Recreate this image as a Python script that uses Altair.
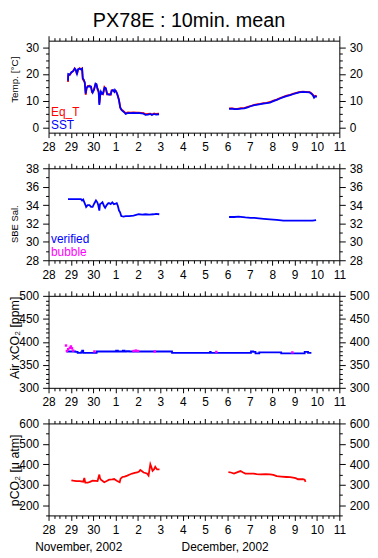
import altair as alt
import pandas as pd

FONT = "Liberation Sans"

# ---------------- data (day number: Nov 28 = 28 ... Dec 1 = 31 ... Dec 11 = 41) ----------------
sst_day_a = [28.87, 28.88, 28.95, 29.02, 29.10, 29.17, 29.22, 29.27, 29.32, 29.39, 29.45, 29.50, 29.53, 29.58,
             29.62, 29.66, 29.70, 29.75, 29.83, 29.90, 29.94, 29.97, 30.03, 30.10, 30.14, 30.19, 30.24, 30.27,
             30.31, 30.34, 30.40, 30.44, 30.50, 30.56, 30.62, 30.71, 30.78, 30.82, 30.88, 30.94, 30.97, 31.02,
             31.07, 31.12, 31.15, 31.20, 31.22, 31.27, 31.33, 31.40, 31.45, 31.55, 31.67, 31.80, 31.95, 32.03,
             32.15, 32.25, 32.33, 32.45, 32.55, 32.62, 32.72, 32.80, 32.94]
sst_val_a = [17.5, 20.0, 19.8, 20.7, 21.0, 22.0, 21.5, 20.1, 21.8, 22.0, 21.7, 22.0, 18.4, 17.8,
             16.6, 12.6, 14.8, 15.3, 15.4, 15.3, 13.5, 13.0, 14.0, 16.4, 16.2, 14.5, 13.5, 8.4,
             12.0, 13.4, 12.5, 12.8, 14.9, 14.7, 12.5, 12.2, 12.4, 13.7, 14.0, 13.3, 14.0, 13.4,
             12.6, 11.0, 10.3, 7.5, 7.2, 6.4, 6.0, 5.5, 5.0, 5.4, 5.3, 5.4, 5.3, 5.4,
             5.2, 5.1, 4.7, 4.8, 5.0, 4.6, 5.0, 4.8, 4.9]
eqt_val_a = [17.0, 19.5, 19.6, 20.5, 21.2, 22.1, 21.3, 19.8, 21.6, 22.2, 21.8, 22.1, 18.0, 17.5,
             16.9, 12.2, 14.5, 15.5, 15.6, 15.0, 13.2, 13.3, 14.2, 16.2, 16.0, 14.2, 13.2, 9.0,
             12.3, 13.0, 12.8, 12.5, 15.1, 14.5, 12.3, 12.5, 12.2, 13.9, 13.8, 13.5, 13.8, 13.6,
             12.3, 11.3, 10.0, 7.8, 7.0, 6.6, 6.2, 5.7, 5.3, 5.6, 5.5, 5.6, 5.5, 5.5,
             5.4, 5.3, 4.9, 5.0, 5.1, 4.8, 5.2, 5.0, 5.1]
sst_day_b = [36.07, 36.20, 36.30, 36.44, 36.60, 36.75, 36.90, 37.03, 37.20, 37.35, 37.47, 37.60, 37.75, 37.90,
             38.05, 38.20, 38.35, 38.50, 38.64, 38.80, 38.95, 39.08, 39.20, 39.37, 39.50, 39.67, 39.75, 39.82,
             39.87, 39.92, 39.99]
sst_val_b = [6.9, 7.0, 6.8, 6.8, 7.0, 7.1, 7.5, 7.9, 8.3, 8.5, 8.7, 8.9, 9.1, 9.3,
             9.8, 10.3, 10.8, 11.3, 11.7, 12.1, 12.5, 12.8, 13.1, 13.3, 13.2, 13.1, 12.6, 12.0,
             11.1, 11.6, 11.4]
eqt_val_b = [7.1, 7.1, 7.0, 6.9, 7.2, 7.2, 7.7, 8.0, 8.4, 8.7, 8.8, 9.1, 9.2, 9.5,
             10.0, 10.4, 11.0, 11.4, 11.9, 12.2, 12.6, 12.9, 13.2, 13.4, 13.3, 13.2, 12.8, 12.2,
             11.4, 11.8, 11.6]

sal_day_a = [28.87, 29.10, 29.30, 29.45, 29.50, 29.55, 29.60, 29.65, 29.68, 29.75, 29.83, 29.90, 29.97, 30.05,
             30.12, 30.18, 30.22, 30.27, 30.30, 30.36, 30.41, 30.48, 30.53, 30.60, 30.67, 30.71, 30.78, 30.85,
             30.92, 31.00, 31.05, 31.10, 31.15, 31.20, 31.25, 31.35, 31.45, 31.60, 31.80, 32.03, 32.20, 32.33,
             32.50, 32.70, 32.80, 32.95]
sal_val_a = [34.65, 34.65, 34.65, 34.65, 34.5, 34.6, 34.3, 34.0, 33.8, 34.0, 34.0, 33.8, 33.8, 34.2,
             34.5, 34.3, 34.0, 33.4, 34.1, 34.2, 34.3, 33.9, 33.7, 34.0, 34.2, 34.2, 34.1, 34.3,
             34.1, 34.15, 34.2, 33.9, 33.4, 33.2, 32.8, 32.75, 32.8, 32.8, 32.85, 33.0, 32.95, 33.0,
             32.95, 33.0, 33.05, 33.0]
sal_day_b = [36.07, 36.30, 36.50, 36.80, 37.03, 37.20, 37.40, 37.62, 37.90, 38.20, 38.50, 38.79, 39.10, 39.37,
             39.60, 39.80, 39.96]
sal_val_b = [32.7, 32.7, 32.75, 32.65, 32.6, 32.6, 32.55, 32.5, 32.45, 32.4, 32.3, 32.3, 32.3, 32.3,
             32.3, 32.3, 32.35]

air_day = [28.80, 28.95, 29.10, 29.20, 29.30, 29.45, 29.50, 29.55, 29.70, 30.10, 30.15, 31.00, 31.02, 31.10,
           31.30, 31.32, 31.40, 31.50, 31.60, 33.50, 33.52, 35.20, 35.22, 35.25, 37.00, 37.05, 37.15, 37.25,
           37.40, 37.42, 38.35, 38.40, 39.40, 39.45, 39.55, 39.60, 39.75]
air_val = [379, 379, 379, 378, 376, 377, 381, 376, 376, 376, 379, 379, 381, 379,
           379, 381, 379, 380, 379, 379, 376, 376, 378, 376, 376, 379, 378, 375,
           375, 377, 377, 375, 375, 378, 378, 376, 376]
bub_day = [28.78, 28.82, 28.88, 28.95, 29.00, 29.05, 29.10, 30.05, 31.80, 31.90, 32.00, 32.75, 35.50, 38.90]
bub_val = [392, 380, 384, 387, 390, 386, 381, 379, 380, 381, 380, 379, 378, 377]

pco2_day_a = [29.02, 29.10, 29.24, 29.39, 29.55, 29.60, 29.64, 29.75, 29.85, 29.97, 30.10, 30.19, 30.27, 30.30,
              30.34, 30.49, 30.60, 30.71, 30.85, 30.93, 31.07, 31.18, 31.22, 31.30, 31.40, 31.52, 31.63, 31.74,
              31.85, 31.96, 32.05, 32.10, 32.18, 32.25, 32.40, 32.47, 32.55, 32.60, 32.65, 32.72, 32.77, 32.85,
              32.96]
pco2_val_a = [322, 320, 318, 318, 315, 333, 310, 310, 314, 320, 319, 318, 350, 332,
              325, 312, 318, 325, 326, 328, 318, 312, 330, 338, 340, 345, 350, 355,
              358, 360, 365, 372, 366, 360, 355, 345, 400, 385, 368, 376, 388, 375,
              375]
pco2_day_b = [36.04, 36.15, 36.29, 36.45, 36.58, 36.70, 36.80, 37.00, 37.17, 37.30, 37.46, 37.70, 37.90, 38.05,
              38.20, 38.40, 38.64, 38.80, 38.93, 39.05, 39.15, 39.25, 39.37, 39.45, 39.49]
pco2_val_b = [362, 360, 355, 362, 367, 360, 355, 355, 355, 352, 351, 352, 351, 348,
              342, 340, 338, 337, 335, 332, 327, 328, 327, 325, 314]

# ---------------- tables ----------------
def frame(days, vals, series, seg):
    return pd.DataFrame({"day": days, "val": vals, "series": series, "seg": seg})

temp_df = pd.concat([
    frame(sst_day_a, eqt_val_a, "Eq_T", "a"), frame(sst_day_b, eqt_val_b, "Eq_T", "b"),
    frame(sst_day_a, sst_val_a, "SST", "a"), frame(sst_day_b, sst_val_b, "SST", "b"),
], ignore_index=True)
sal_df = pd.concat([frame(sal_day_a, sal_val_a, "verified", "a"),
                    frame(sal_day_b, sal_val_b, "verified", "b")], ignore_index=True)
air_df = frame(air_day, air_val, "verified", "a")
bub_df = frame(bub_day, bub_val, "bubble", "a")
pco2_df = pd.concat([frame(pco2_day_a, pco2_val_a, "pCO2", "a"),
                     frame(pco2_day_b, pco2_val_b, "pCO2", "b")], ignore_index=True)

# ---------------- axes ----------------
X_DOMAIN = [28, 41]
X_MAJOR = list(range(28, 42))
X_MINOR = [d + q for d in range(28, 41) for q in (0.25, 0.5, 0.75)]
LABEL_EXPR = "datum.value > 30 ? datum.value - 30 : datum.value"

COMMON = dict(grid=False, domain=False, tickColor="black", tickWidth=1, labelColor="black",
              labelFont=FONT, labelFontSize=12, titleFont=FONT, titleColor="black",
              titleFontWeight="normal")

W, H = 294, 93
LW = 1.8


def make_panel(data_layers, df_axis, y_domain, y_major, y_minor, y_title, title_size, title_y,
               extra=None):
    xs = alt.Scale(domain=X_DOMAIN, nice=False, zero=False)
    ys = alt.Scale(domain=y_domain, nice=False, zero=False)

    def axis_layer(xaxis, yaxis):
        return alt.Chart(df_axis).mark_point(opacity=0).encode(
            x=alt.X("day:Q", scale=xs, axis=xaxis),
            y=alt.Y("val:Q", scale=ys, axis=yaxis),
        )

    layers = []
    for make in data_layers:
        layers.append(make(xs, ys))
    layers.append(axis_layer(
        alt.Axis(orient="bottom", values=X_MAJOR, labelExpr=LABEL_EXPR, tickSize=5, labelPadding=4,
                 labelFlush=False, labelOverlap=False, title=None, **COMMON),
        alt.Axis(orient="left", values=y_major, tickSize=6, labelPadding=4, labelOverlap=False,
                 title=y_title, titleFontSize=title_size, titleX=-34, titleY=title_y,
                 titleAlign="center", titleBaseline="middle", titleAngle=270, **COMMON)))
    layers.append(axis_layer(
        alt.Axis(orient="top", values=X_MAJOR, labels=False, tickSize=5, title=None, **COMMON),
        alt.Axis(orient="right", values=y_major, tickSize=6, labelPadding=4, labelOverlap=False,
                 title=None, **COMMON)))
    layers.append(axis_layer(
        alt.Axis(orient="bottom", values=X_MINOR, labels=False, tickSize=3, title=None, **COMMON),
        alt.Axis(orient="left", values=y_minor, labels=False, tickSize=3, title=None, **COMMON)))
    layers.append(axis_layer(
        alt.Axis(orient="top", values=X_MINOR, labels=False, tickSize=3, title=None, **COMMON),
        alt.Axis(orient="right", values=y_minor, labels=False, tickSize=3, title=None, **COMMON)))
    if extra:
        for ttl, tx in extra:
            layers.append(alt.Chart(df_axis).mark_point(opacity=0).encode(
                x=alt.X("day:Q", scale=xs, axis=alt.Axis(
                    orient="bottom", labels=False, ticks=False, domain=False, grid=False, title=ttl,
                    titleX=tx, titleY=26, titleAlign="center", titleBaseline="top", titleFont=FONT,
                    titleFontSize=12, titleFontWeight="normal", titleColor="black")),
                y=alt.Y("val:Q", scale=ys, axis=None)))
    return alt.layer(*layers).resolve_axis(x="independent", y="independent").properties(width=W, height=H)


def legend(names, colors):
    expr = "datum.value == '%s' ? '%s' : '%s'" % (names[0], colors[0], colors[1])
    return alt.Legend(orient="none", legendX=-9.5, legendY=66, title=None, padding=0, symbolSize=0,
                      symbolOpacity=0, symbolStrokeWidth=0, labelOffset=0, rowPadding=1,
                      labelFont=FONT, labelFontSize=12, labelColor=alt.ExprRef(expr=expr))


def temp_lines(xs, ys):
    return alt.Chart(temp_df).mark_line(strokeWidth=LW).encode(
        x=alt.X("day:Q", scale=xs, axis=None), y=alt.Y("val:Q", scale=ys, axis=None),
        color=alt.Color("series:N", scale=alt.Scale(domain=["Eq_T", "SST"], range=["#ff0000", "#0000ff"]),
                        legend=legend(["Eq_T", "SST"], ["#ff0000", "#0000ff"])),
        detail="seg:N")


def sal_lines(xs, ys):
    return alt.Chart(sal_df).mark_line(strokeWidth=LW).encode(
        x=alt.X("day:Q", scale=xs, axis=None), y=alt.Y("val:Q", scale=ys, axis=None),
        color=alt.Color("series:N", scale=alt.Scale(domain=["verified", "bubble"], range=["#0000ff", "#ff00ff"]),
                        legend=legend(["verified", "bubble"], ["#0000ff", "#ff00ff"])),
        detail="seg:N")


def air_line(xs, ys):
    return alt.Chart(air_df).mark_line(strokeWidth=LW, color="#0000ff", interpolate="step-after").encode(
        x=alt.X("day:Q", scale=xs, axis=None), y=alt.Y("val:Q", scale=ys, axis=None))


def bub_points(xs, ys):
    return alt.Chart(bub_df).mark_square(size=6, color="#ff00ff", opacity=1).encode(
        x=alt.X("day:Q", scale=xs, axis=None), y=alt.Y("val:Q", scale=ys, axis=None))


def pco2_lines(xs, ys):
    return alt.Chart(pco2_df).mark_line(strokeWidth=LW, color="#ff0000").encode(
        x=alt.X("day:Q", scale=xs, axis=None), y=alt.Y("val:Q", scale=ys, axis=None),
        detail="seg:N")


p1 = make_panel([temp_lines], temp_df, [-2, 32.5], [0, 10, 20, 30],
                [2.5, 5, 7.5, 12.5, 15, 17.5, 22.5, 25, 27.5], "Temp. [°C]", 10, 39)
p2 = make_panel([sal_lines], sal_df, [28, 38], [28, 30, 32, 34, 36, 38],
                [29, 31, 33, 35, 37], "SBE Sal.", 9.5, 56)
p3 = make_panel([air_line, bub_points], air_df, [300, 500], [300, 350, 400, 450, 500],
                [v for v in range(310, 500, 10) if v % 50], "Air xCO₂ [ppm]", 12.5, 42)
p4 = make_panel([pco2_lines], pco2_df, [150, 600], [200, 300, 400, 500, 600],
                [150, 250, 350, 450, 550], "pCO₂ [μ atm]", 12.5, 47,
                extra=[("November, 2002", 30), ("December, 2002", 178)])

chart = alt.vconcat(p1, p2, p3, p4, spacing=36, bounds="flush").resolve_scale(color="independent").properties(
    title=alt.TitleParams("PX78E : 10min. mean", font=FONT, fontSize=20, fontWeight="normal",
                          color="black", anchor="middle", offset=4),
    padding=0,
    background="white",
).configure_view(stroke="black", strokeWidth=1)

chart.save("out.html", embed_options={"renderer": "svg", "actions": False})
